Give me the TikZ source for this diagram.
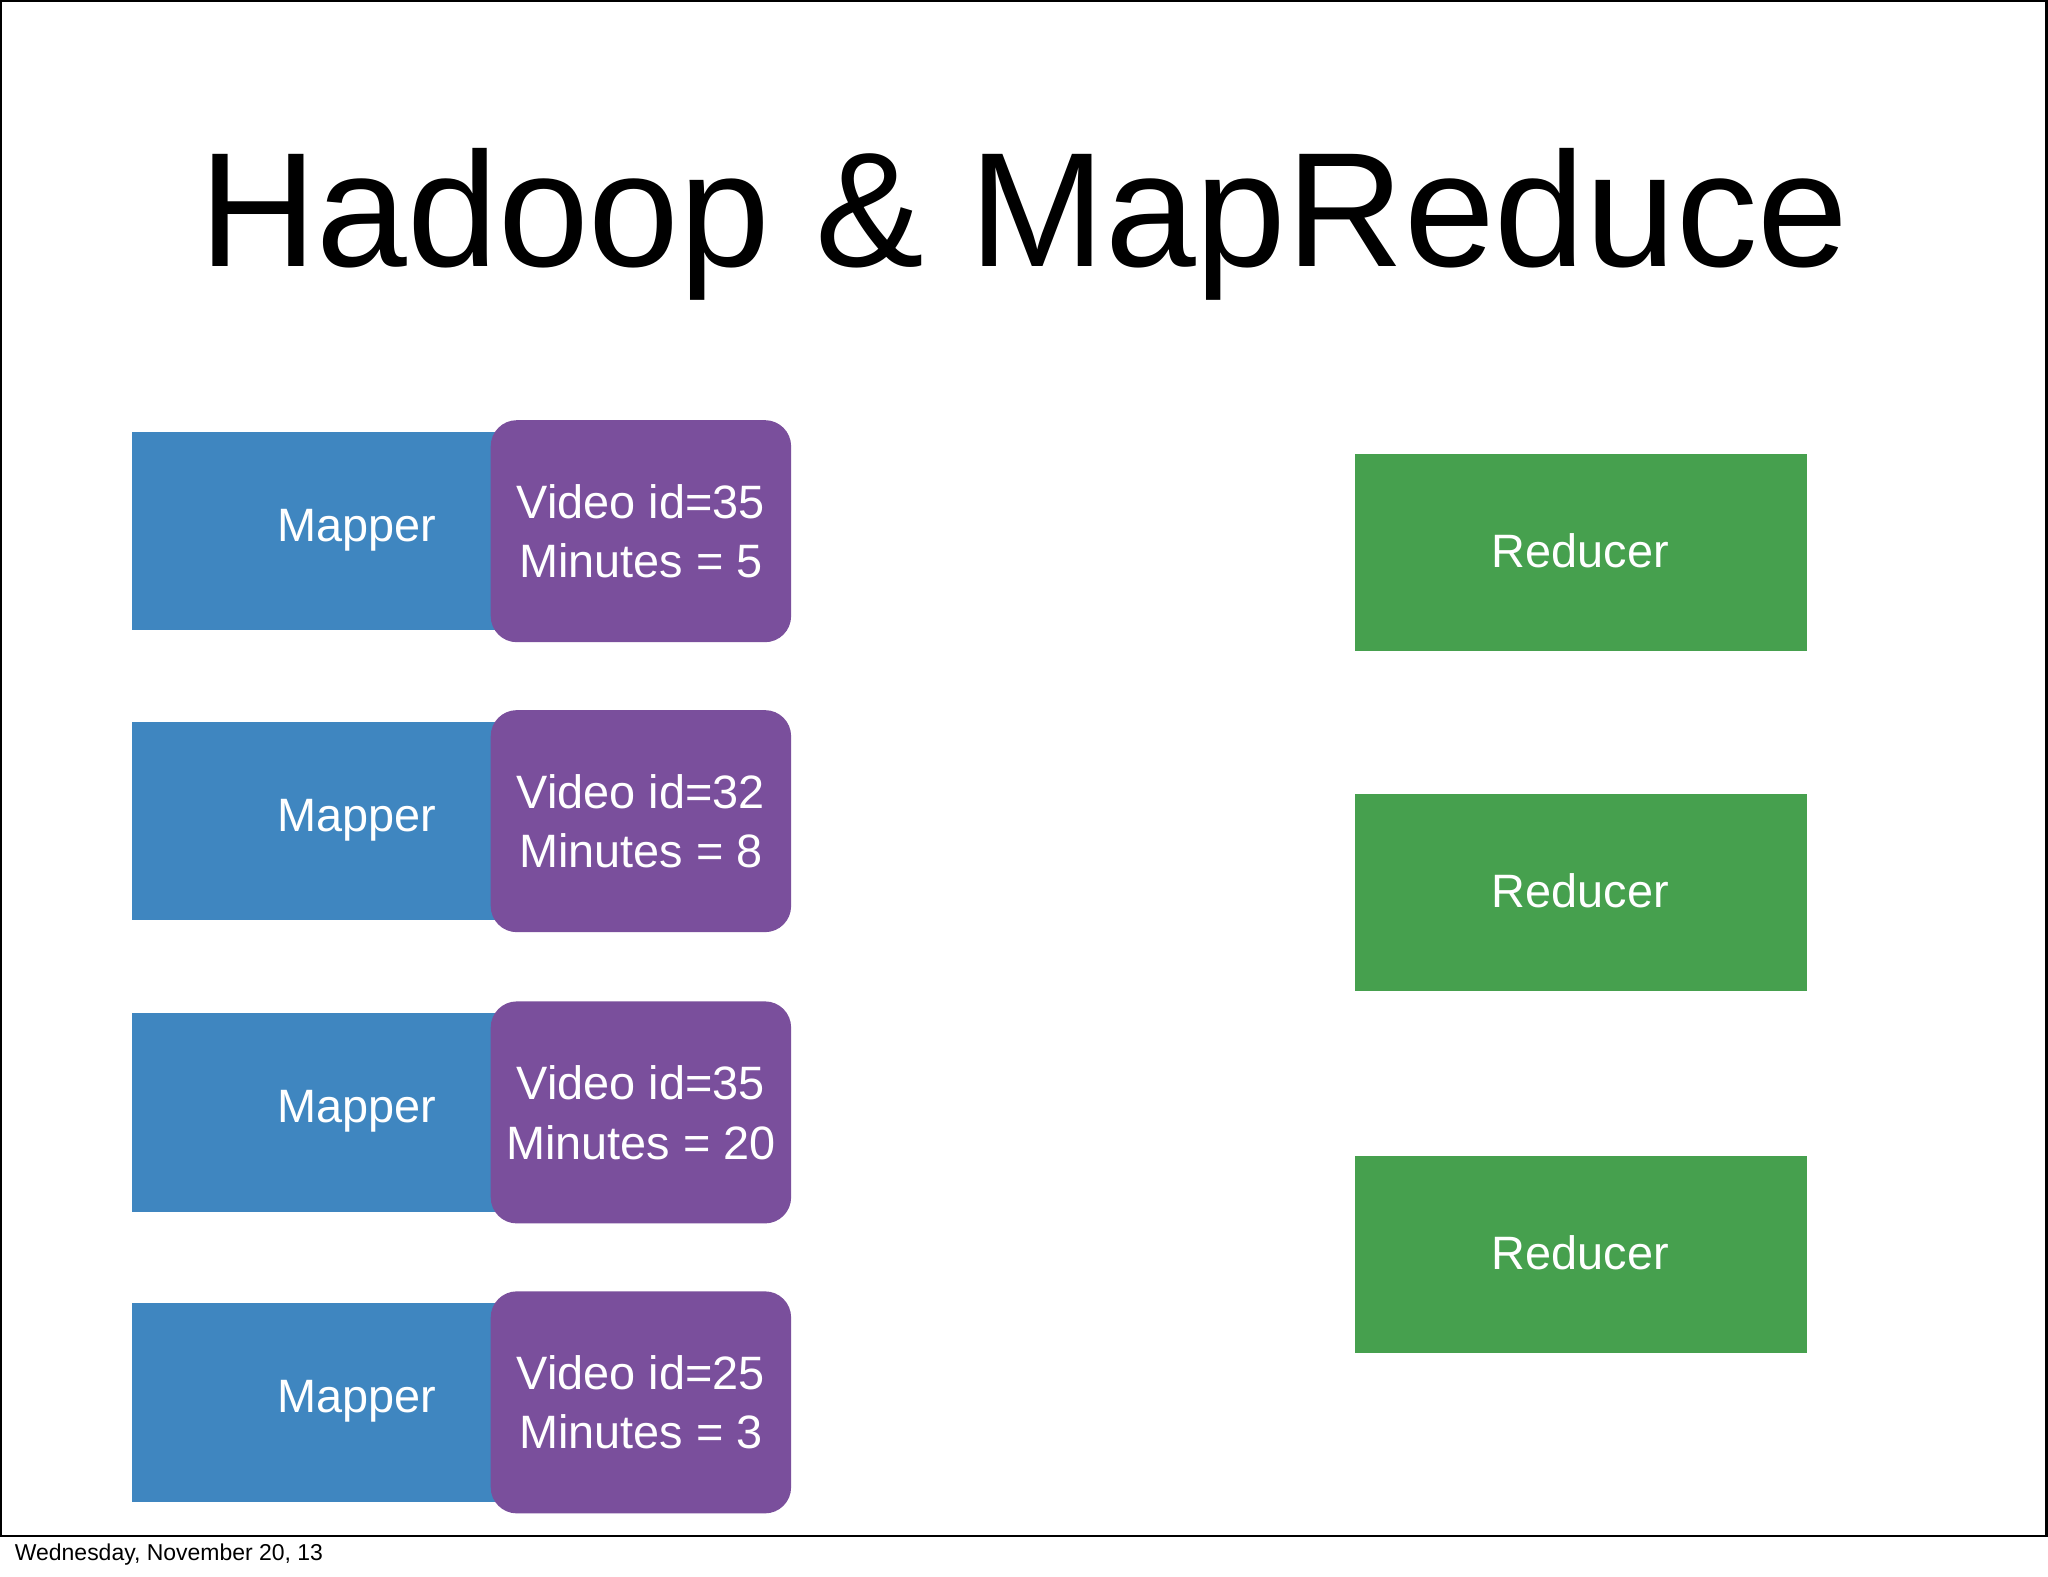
\documentclass[tikz,border=0pt]{standalone}
\usepackage{fontspec}
\setmainfont{Liberation Sans}
\begin{document}
\begin{tikzpicture}[x=0.01cm,y=-0.01cm,
 mapper/.style={fill=mapblue,draw=none,minimum width=285*0.01cm,minimum height=152*0.01cm,anchor=north west,inner sep=0},
 kv/.style={fill=kvpurple,draw=none,rounded corners=0.2cm,minimum width=230*0.01cm,minimum height=170*0.01cm,anchor=north west,inner sep=0,text=white,align=center,font=\fontsize{10.2pt}{13pt}\selectfont},
 red/.style={fill=redgreen,draw=none,minimum width=346*0.01cm,minimum height=151*0.01cm,anchor=north west,inner sep=0},
 lbl/.style={text=white,font=\fontsize{10.2pt}{12pt}\selectfont}]
\definecolor{mapblue}{HTML}{3F86C0}
\definecolor{kvpurple}{HTML}{7A4F9C}
\definecolor{redgreen}{HTML}{46A04E}
\useasboundingbox (0,0) rectangle (1568,1207);
\fill[white] (0,0) rectangle (1568,1207);
\draw[line width=0.6pt] (0.5,0.5) rectangle (1567,1176);
\node[font=\fontsize{35.5pt}{40pt}\selectfont] (title) at (784,172) {Hadoop \& MapReduce};
\node[anchor=west,font=\fontsize{5pt}{6pt}\selectfont] (date) at (-1,1190) {Wednesday, November 20, 13};
\foreach \i/\y/\v/\m in {1/330/35/5,2/552/32/8,3/775/35/20,4/997/25/3}{
 \node[mapper] (m\i) at (100,\y) {};
 \node[lbl] (ml\i) at (273,\y+76) {Mapper};
 \node[kv] (k\i) at (375,\y-9) {Video id=\v\\Minutes = \m};
}
\foreach \i/\y in {1/347,2/607,3/884}{
 \node[red] (r\i) at (1037,\y) {};
 \node[lbl] (rl\i) at (1210,\y+75) {Reducer};
}
\end{tikzpicture}
\end{document}
